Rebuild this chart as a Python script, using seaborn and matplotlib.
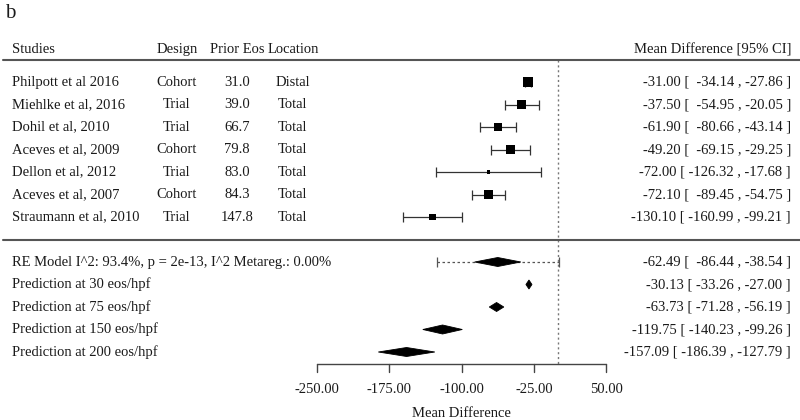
import numpy as np
import pandas as pd
import matplotlib
matplotlib.use("Agg")
import matplotlib.pyplot as plt
import seaborn as sns
from matplotlib.patches import Polygon

# ---------------- data ----------------
studies = ["Philpott et al 2016", "Miehlke et al, 2016", "Dohil et al, 2010",
           "Aceves et al, 2009", "Dellon et al, 2012", "Aceves et al, 2007",
           "Straumann et al, 2010"]
design = ["Cohort", "Trial", "Trial", "Cohort", "Trial", "Cohort", "Trial"]
prior_eos = [31.0, 39.0, 66.7, 79.8, 83.0, 84.3, 147.8]
location = ["Distal", "Total", "Total", "Total", "Total", "Total", "Total"]
md = [-31.00, -37.50, -61.90, -49.20, -72.00, -72.10, -130.10]
ci_lo = [-34.14, -54.95, -80.66, -69.15, -126.32, -89.45, -160.99]
ci_hi = [-27.86, -20.05, -43.14, -29.25, -17.68, -54.75, -99.21]
weight = [9.3, 9.0, 8.3, 8.3, 3.3, 9.0, 6.7]   # marker side (px) ~ study weight

re_label = "RE Model I^2: 93.4%, p = 2e-13, I^2 Metareg.: 0.00%"
re_est, re_lo, re_hi = -62.49, -86.44, -38.54
re_pi_lo, re_pi_hi = -125.6, 0.6

pred_labels = ["Prediction at 30 eos/hpf", "Prediction at 75 eos/hpf",
               "Prediction at 150 eos/hpf", "Prediction at 200 eos/hpf"]
pred_est = [-30.13, -63.73, -119.75, -157.09]
pred_lo = [-33.26, -71.28, -140.23, -186.39]
pred_hi = [-27.00, -56.19, -99.26, -127.79]

xticks = [-250, -175, -100, -25, 50]

# ---------------- style ----------------
sns.set_theme(style="white")
plt.rcParams["font.family"] = ["Liberation Serif", "DejaVu Serif"]
FS = 10.5
TXT = "#1a1a1a"
LC = "#333333"

fig = plt.figure(figsize=(8, 4.2), dpi=100)
ax = fig.add_axes([0, 0, 1, 1])
# pixel x = 558 + 0.964 * value ; pixel y = 82 + 22.5 * row
sx, x0 = 0.964, 558.0
XL = (-x0 / sx, (800 - x0) / sx)
YL = ((420 - 82) / 22.5, -82 / 22.5)

n = len(studies)
rows = np.arange(n)
re_row = n + 1
pred_rows = np.arange(n + 2, n + 2 + len(pred_labels))
axis_row = pred_rows[-1] + 0.55

def xpix(px):
    return (px - x0) / sx

# squares (study estimates)
df = pd.DataFrame({"md": md, "row": rows, "w": weight})
sns.scatterplot(data=df, x="md", y="row", marker="s", color="black",
                s=(np.array(weight) * 0.72) ** 2, linewidth=0, ax=ax, zorder=3,
                legend=False)
ax.set_xlim(*XL)
ax.set_ylim(*YL)
ax.axis("off")

# CIs
ax.errorbar(md, rows, xerr=[np.array(md) - np.array(ci_lo), np.array(ci_hi) - np.array(md)],
            fmt="none", ecolor=LC, elinewidth=0.9, capsize=3.5, capthick=0.9, zorder=2)

# text columns
col_study = xpix(12)
col_design = xpix(177)
col_eos = xpix(237)
col_loc = xpix(293)
col_right = xpix(791)

ax.text(xpix(5), -3.05, "b", fontsize=15, color=TXT, ha="left", va="center")

hdr = -1.45
ax.text(col_study, hdr, "Studies", fontsize=FS, color=TXT, ha="left", va="center")
ax.text(col_design, hdr, "Design", fontsize=FS, color=TXT, ha="center", va="center")
ax.text(col_eos, hdr, "Prior Eos", fontsize=FS, color=TXT, ha="center", va="center")
ax.text(col_loc, hdr, "Location", fontsize=FS, color=TXT, ha="center", va="center")
ax.text(col_right, hdr, "Mean Difference [95% CI]", fontsize=FS, color=TXT,
        ha="right", va="center")

ax.plot([xpix(3), xpix(800)], [-1, -1], color="#555555", lw=1.5)
ax.plot([xpix(3), xpix(800)], [n, n], color="#555555", lw=1.5)

def fmt(e, l, h):
    return f"{e:.2f} [ {l:7.2f} , {h:.2f} ]"

for i in range(n):
    y = rows[i]
    ax.text(col_study, y, studies[i], fontsize=FS, color=TXT, ha="left", va="center")
    ax.text(col_design, y, design[i], fontsize=FS, color=TXT, ha="center", va="center")
    ax.text(col_eos, y, f"{prior_eos[i]:.1f}", fontsize=FS, color=TXT, ha="center", va="center")
    ax.text(col_loc, y, location[i], fontsize=FS, color=TXT, ha="center", va="center")
    ax.text(col_right, y, fmt(md[i], ci_lo[i], ci_hi[i]), fontsize=FS, color=TXT,
            ha="right", va="center")

# reference line at zero
ax.plot([0, 0], [-1, axis_row], color="#777777", lw=1.0, ls=(0, (1.5, 2)), zorder=1)

def diamond(e, l, h, y, hh=0.2):
    ax.add_patch(Polygon([[l, y], [e, y - hh], [h, y], [e, y + hh]],
                         closed=True, facecolor="black", edgecolor="black", lw=0.6, zorder=4))

# RE model
ax.text(col_study, re_row, re_label, fontsize=FS, color=TXT, ha="left", va="center")
eb = ax.errorbar([re_est], [re_row], xerr=[[re_est - re_pi_lo], [re_pi_hi - re_est]],
                 fmt="none", ecolor="#555555", elinewidth=0.9, capsize=3.5,
                 capthick=0.9, zorder=2)
eb[2][0].set_linestyle((0, (2, 2)))
diamond(re_est, re_lo, re_hi, re_row)
ax.text(col_right, re_row, fmt(re_est, re_lo, re_hi), fontsize=FS, color=TXT,
        ha="right", va="center")

for j in range(len(pred_labels)):
    y = pred_rows[j]
    ax.text(col_study, y, pred_labels[j], fontsize=FS, color=TXT, ha="left", va="center")
    diamond(pred_est[j], pred_lo[j], pred_hi[j], y)
    ax.text(col_right, y, f"{pred_est[j]:.2f} [ {pred_lo[j]:.2f} , {pred_hi[j]:.2f} ]",
            fontsize=FS, color=TXT, ha="right", va="center")

# x axis
ax.plot([xticks[0], xticks[-1]], [axis_row, axis_row], color="#444444", lw=1.0)
for t in xticks:
    ax.plot([t, t], [axis_row, axis_row + 0.33], color="#444444", lw=1.0)
    ax.text(t, axis_row + 1.1, f"{t:.2f}", fontsize=FS, color=TXT, ha="center", va="center")
ax.text(np.mean([xticks[0], xticks[-1]]), axis_row + 2.2, "Mean Difference", fontsize=FS,
        color=TXT, ha="center", va="center")

ax.set_xlim(*XL)
ax.set_ylim(*YL)
fig.savefig("out.png", dpi=100)
